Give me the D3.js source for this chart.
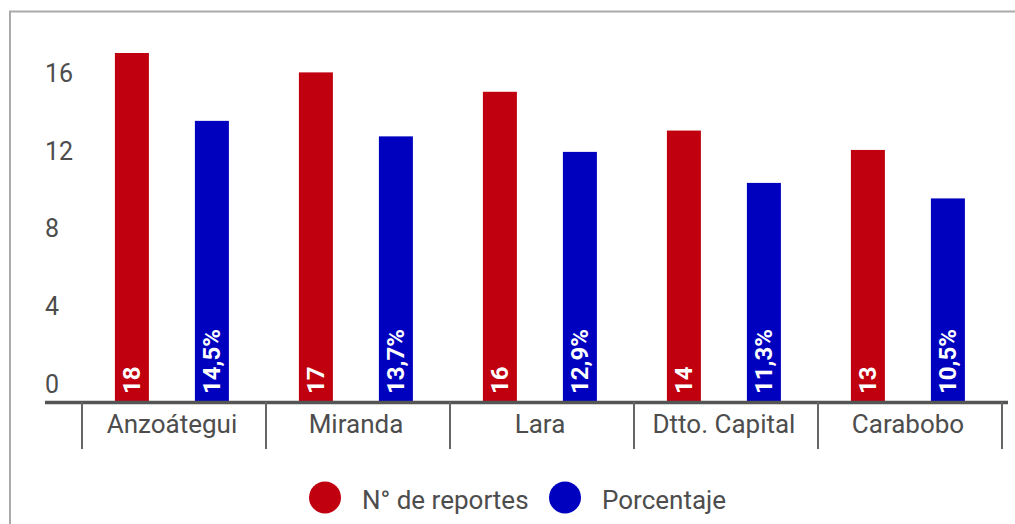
<!DOCTYPE html>
<html>
<head>
<meta charset="utf-8">
<script src="https://cdn.jsdelivr.net/npm/d3@7"></script>
<style>
  body { margin: 0; background: #fff; }
  svg { display: block; font-family: Roboto, "Noto Sans", sans-serif; }
</style>
</head>
<body>
<div id="chart"></div>
<script>
// data
var states = ["Anzoátegui", "Miranda", "Lara", "Dtto. Capital", "Carabobo"];
var reportes = [18, 17, 16, 14, 13];
var porcentaje = [14.5, 13.7, 12.9, 11.3, 10.5];
var seriesNames = ["N° de reportes", "Porcentaje"];
var seriesColors = ["#c0000f", "#0000bf"];
var yTicks = [0, 4, 8, 12, 16];

var width = 1015, height = 524;
var fmt = d3.format(".1f");

var svg = d3.select("#chart")
  .append("svg")
  .attr("width", width)
  .attr("height", height);

// frame
svg.append("rect")
  .attr("x", 10)
  .attr("y", 11.5)
  .attr("width", 1020)
  .attr("height", 540)
  .attr("fill", "none")
  .attr("stroke", "#aaa")
  .attr("stroke-width", 2);

var xScale = d3.scaleBand()
  .domain(states)
  .range([82, 1002])
  .padding(0);

var inner = d3.scaleBand()
  .domain(seriesNames)
  .range([0, xScale.bandwidth()])
  .paddingInner(0.575)
  .paddingOuter(0.4375)
  .align(0.47);

var yScale = d3.scaleLinear()
  .domain([0, 18])
  .range([402, 53]);

// y labels (no grid lines, text sits above tick position)
svg.append("g")
  .selectAll("text")
  .data(yTicks)
  .enter()
  .append("text")
  .attr("x", 45)
  .attr("y", function(d) { return yScale(d) - 9.5; })
  .attr("font-size", 25)
  .attr("fill", "#4d4d4d")
  .text(function(d) { return d; });

var data = [];
states.forEach(function(s, i) {
  data.push({state: s, series: seriesNames[0], value: reportes[i], label: String(reportes[i]), color: seriesColors[0]});
  data.push({state: s, series: seriesNames[1], value: porcentaje[i], label: fmt(porcentaje[i]).replace(".", ",") + "%", color: seriesColors[1]});
});

// bars
svg.selectAll(".bar")
  .data(data)
  .enter()
  .append("rect")
  .attr("class", "bar")
  .attr("x", function(d) { return xScale(d.state) + inner(d.series); })
  .attr("width", inner.bandwidth())
  .attr("y", function(d) { return yScale(d.value); })
  .attr("height", function(d) { return yScale(0) - yScale(d.value); })
  .attr("fill", function(d) { return d.color; });

// labels inside bars, rotated
svg.selectAll(".barlabel")
  .data(data)
  .enter()
  .append("text")
  .attr("class", "barlabel")
  .attr("transform", function(d) {
    var cx = xScale(d.state) + inner(d.series) + inner.bandwidth() / 2;
    return "translate(" + (cx + 8.5) + "," + (yScale(0) - 8) + ") rotate(-90)";
  })
  .attr("font-size", 24)
  .attr("font-weight", "bold")
  .attr("fill", "#fff")
  .text(function(d) { return d.label; });

// x axis
var xAxis = svg.append("g");
xAxis.append("line")
  .attr("x1", 45)
  .attr("x2", 1008)
  .attr("y1", yScale(0) + 0.5)
  .attr("y2", yScale(0) + 0.5)
  .attr("stroke", "#555")
  .attr("stroke-width", 3.5);

var dividers = states.map(function(s) { return xScale(s); }).concat([xScale.range()[1]]);
xAxis.selectAll(".div")
  .data(dividers)
  .enter()
  .append("line")
  .attr("x1", function(d) { return d; })
  .attr("x2", function(d) { return d; })
  .attr("y1", yScale(0))
  .attr("y2", 449)
  .attr("stroke", "#666")
  .attr("stroke-width", 2);

xAxis.selectAll(".xlabel")
  .data(states)
  .enter()
  .append("text")
  .attr("x", function(d) { return xScale(d) + xScale.bandwidth() / 2 - 2; })
  .attr("y", 433)
  .attr("text-anchor", "middle")
  .attr("font-size", 26)
  .attr("fill", "#4d4d4d")
  .text(function(d) { return d; });

// legend
var legendX = [325, 565];
var legend = svg.selectAll(".legend")
  .data(seriesNames)
  .enter()
  .append("g")
  .attr("transform", function(d, i) { return "translate(" + legendX[i] + ",497.5)"; });

legend.append("circle")
  .attr("r", 16)
  .attr("fill", function(d, i) { return seriesColors[i]; });

legend.append("text")
  .attr("x", 37)
  .attr("y", 11)
  .attr("font-size", 26)
  .attr("fill", "#4d4d4d")
  .text(function(d) { return d; });
</script>
</body>
</html>
